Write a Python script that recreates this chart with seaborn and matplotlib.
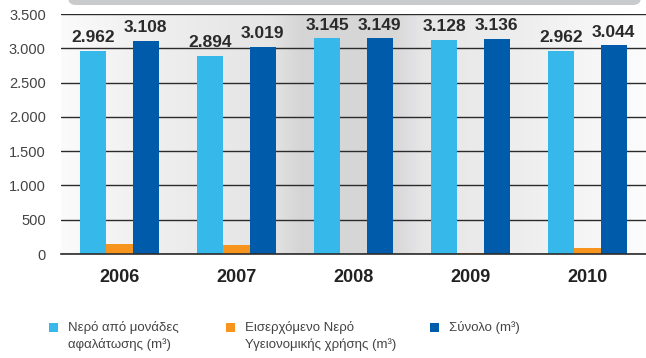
import numpy as np
import pandas as pd
import matplotlib
matplotlib.use("Agg")
import matplotlib.pyplot as plt
from matplotlib.patches import Rectangle, FancyBboxPatch
from matplotlib.ticker import FuncFormatter, FixedLocator
import seaborn as sns

# Annual water volumes (m3)
years = ["2006", "2007", "2008", "2009", "2010"]
desalination = [2962, 2894, 3145, 3128, 2962]
incoming_sanitary = [146, 125, 4, 8, 82]
total = [3108, 3019, 3149, 3136, 3044]

series_names = [
    "Νερό από μονάδες\nαφαλάτωσης (m³)",
    "Εισερχόμενο Νερό\nΥγειονομικής χρήσης (m³)",
    "Σύνολο (m³)",
]
colors = ["#36b8ea", "#f7941d", "#005baa"]
y_ticks = [0, 500, 1000, 1500, 2000, 2500, 3000, 3500]

df = pd.DataFrame({
    "year": years * 3,
    "series": [series_names[0]] * 5 + [series_names[1]] * 5 + [series_names[2]] * 5,
    "value": desalination + incoming_sanitary + total,
})

sns.set_theme(style="white")
plt.rcParams["font.family"] = ["Liberation Sans", "DejaVu Sans"]

W, H = 646, 358
fig = plt.figure(figsize=(W / 100, H / 100), dpi=100)
ax = fig.add_axes([61 / W, 1 - 254 / H, 1 - 61 / W, (254 - 14) / H])

# soft grey shading behind the bars
xs = np.linspace(0, 1, 600)
stops_x = [0.0, 0.12, 0.36, 0.41, 0.57, 0.62, 0.80, 1.0]
stops_v = [0.985, 0.945, 0.895, 0.835, 0.845, 0.905, 0.935, 0.99]
shade = np.interp(xs, stops_x, stops_v)
grad = np.clip(np.dstack([shade, shade, shade * 1.005]), 0, 1)
ax.imshow(grad, extent=[0, 1, 0, 1], transform=ax.transAxes, aspect="auto", zorder=0)

sns.barplot(
    data=df, x="year", y="value", hue="series", order=years,
    hue_order=series_names, palette=colors, width=0.667,
    saturation=1, legend=False, ax=ax, zorder=3,
    linewidth=0, edgecolor="none",
)

ax.set_xlim(-0.5, len(years) - 0.5)
ax.set_ylim(0, 3500)
ax.set_yticks(y_ticks)
ax.yaxis.set_major_formatter(FuncFormatter(lambda v, p: f"{int(v):,}".replace(",", ".")))
ax.grid(axis="y", color="#2b2b2b", linewidth=1.0, zorder=1)
ax.set_axisbelow(True)
for line in ax.get_ygridlines():
    line.set_zorder(1)

for s in ["left", "right", "top"]:
    ax.spines[s].set_visible(False)
ax.spines["bottom"].set_color("#2b2b2b")
ax.spines["bottom"].set_linewidth(1.2)
ax.spines["bottom"].set_zorder(5)

ax.set_xlabel("")
ax.set_ylabel("")
ax.tick_params(axis="y", length=0, labelsize=10.5, labelcolor="#444444", pad=11)
ax.tick_params(axis="x", which="major", length=0, pad=11)
ax.xaxis.set_minor_locator(FixedLocator(np.arange(-0.5, len(years), 1.0)))
ax.tick_params(axis="x", which="minor", length=6, width=1.2, color="#2b2b2b", direction="out")
for lbl in ax.get_xticklabels():
    lbl.set_fontweight("bold")
    lbl.set_fontsize(13)
    lbl.set_color("#222222")

# value labels on desalination and total bars
label_font = dict(weight="bold", size=12.5, color="#2a2a2a")
for container, show in zip(ax.containers, [True, False, True]):
    if show:
        ax.bar_label(container, labels=[f"{int(v):,}".replace(",", ".") for v in container.datavalues],
                     padding=4, **label_font)

# decorative header band
band = FancyBboxPatch((68 / W, 1 - 5 / H), (641 - 68) / W, 20 / H,
                      boxstyle="round,pad=0,rounding_size=0.012",
                      transform=fig.transFigure, facecolor="#c9cacc", edgecolor="none",
                      mutation_aspect=W / H, zorder=0)
fig.patches.append(band)

# legend
leg_x = [49, 226, 430]
for x, c, name in zip(leg_x, colors, series_names):
    fig.patches.append(Rectangle((x / W, 1 - 332 / H), 9 / W, 9 / H,
                                 transform=fig.transFigure, facecolor=c, edgecolor="none"))
    fig.text((x + 19) / W, 1 - 321 / H, name, ha="left", va="top", fontsize=9.5,
             color="#444444", linespacing=1.4)

fig.savefig("out.png", dpi=100)
